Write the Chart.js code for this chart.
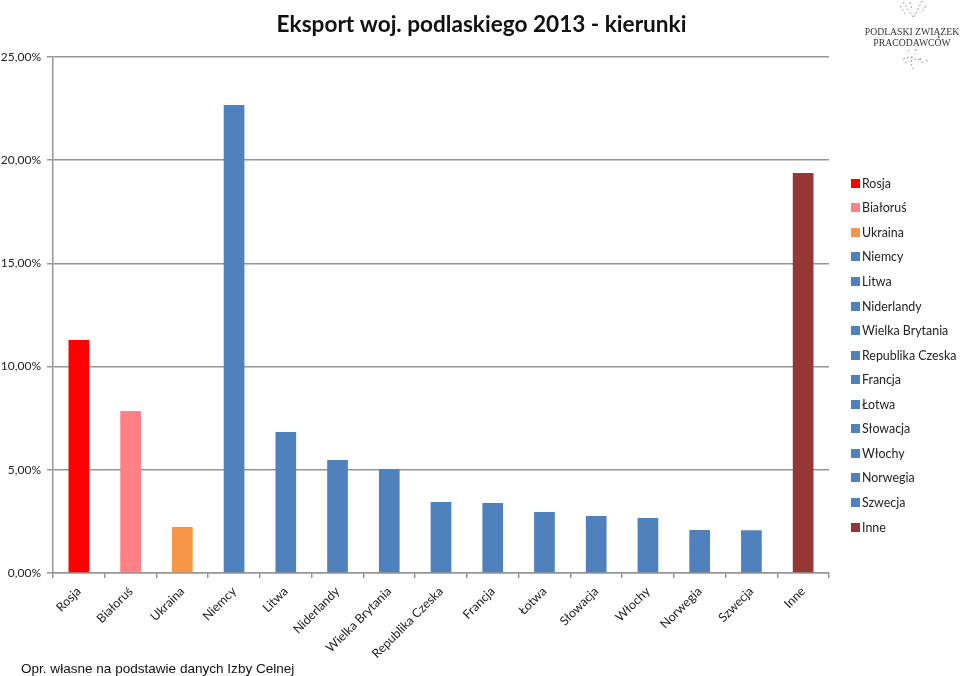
<!DOCTYPE html>
<html><head><meta charset="utf-8">
<style>
html,body{margin:0;padding:0;background:#fff;}
#wrap{position:relative;width:960px;height:676px;overflow:hidden;}
canvas{position:absolute;left:0;top:0;}
.t{position:absolute;white-space:nowrap;}
#foot{left:21px;top:661px;font:13.55px "Liberation Sans";color:#111;}
#logo{left:862px;top:26px;width:100px;text-align:center;font:9.7px/11px "Liberation Serif";color:#333;}
#logoart{position:absolute;left:890px;top:0;}
.li{position:absolute;left:851px;height:14px;font:12.4px/14px Lato;color:#222;white-space:nowrap;}
.li i{position:absolute;left:0;top:2px;width:9px;height:9px;}
.li span{position:absolute;left:11px;top:0;}
</style></head><body>
<div id="wrap"><canvas id="c" width="960" height="676"></canvas>
<div class="t" id="foot">Opr. własne na podstawie danych Izby Celnej</div>
<div class="t" id="logo">PODLASKI ZWIĄZEK<br>PRACODAWCÓW</div>
<svg id="logoart" width="50" height="76" stroke="#777" stroke-width="1" fill="none" stroke-dasharray="2 2" opacity=".75">
<path d="M13 2l6 9 4 6M32 1l-4 8-4 8M10 6l5 8M36 6l-5 7M20 2l2 8M18 50l3 3M26 49l-1 5M13 59l6-2 6 2 7 1M22 56l-1 8 3 7M15 62l3 3M30 58l3 5M36 60l2 1"/></svg>
<div id="legend"></div></div>
<script src="https://cdn.jsdelivr.net/npm/chart.js@4"></script>
<script>
const categories=["Rosja","Białoruś","Ukraina","Niemcy","Litwa","Niderlandy","Wielka Brytania","Republika Czeska","Francja","Łotwa","Słowacja","Włochy","Norwegia","Szwecja","Inne"];
const values=[11.29,7.85,2.23,22.67,6.83,5.47,5.04,3.44,3.39,2.96,2.76,2.66,2.08,2.07,19.38];
const colors=["#ff0000","#ff8085","#f79646","#4f81bd","#4f81bd","#4f81bd","#4f81bd","#4f81bd","#4f81bd","#4f81bd","#4f81bd","#4f81bd","#4f81bd","#4f81bd","#953735"];
const titleText="Eksport woj. podlaskiego 2013 - kierunki";
const fmt=v=>v.toFixed(2).replace('.',',')+'%';
const leg=document.getElementById('legend');
categories.forEach((c,i)=>{
 const d=document.createElement('div');d.className='li';d.style.top=(176.8+i*24.55)+'px';
 const b=document.createElement('i');b.style.background=colors[i];
 const s=document.createElement('span');s.textContent=c;
 d.append(b,s);leg.append(d);
});
new Chart(document.getElementById('c'),{
 type:'bar',
 data:{labels:categories,datasets:[{data:values,backgroundColor:colors,categoryPercentage:1,barPercentage:0.4}]},
 plugins:[{id:'titleSpan',afterLayout(chart){chart.titleBlock.left=0;chart.titleBlock.right=963;}}],
 options:{responsive:false,animation:false,
  layout:{padding:{left:0,right:131,top:0,bottom:0}},
  plugins:{
   title:{display:true,text:titleText,color:'#111',fullSize:true,font:{family:'Lato',size:22.6,weight:'bold'},padding:{top:11,bottom:18.9}},
   tooltip:{enabled:false},
   legend:{display:false}
  },
  scales:{
   x:{afterFit(s){s.height=103;},
      grid:{display:true,drawOnChartArea:false,drawTicks:true,color:'#969696',lineWidth:1.5,tickLength:5,offset:true},
      border:{color:'#969696',width:1.5},
      ticks:{color:'#222',autoSkip:false,maxRotation:45,minRotation:45,font:{family:'Lato',size:12.4},padding:6}},
   y:{min:0,max:25,afterFit(s){s.width=53;},
      grid:{color:'#969696',lineWidth:1.5,tickLength:6},border:{color:'#969696',width:1.5},
      ticks:{stepSize:5,color:'#222',callback:fmt,font:{family:'Lato',size:12},padding:6}}
  }
 }
});
</script></body></html>
